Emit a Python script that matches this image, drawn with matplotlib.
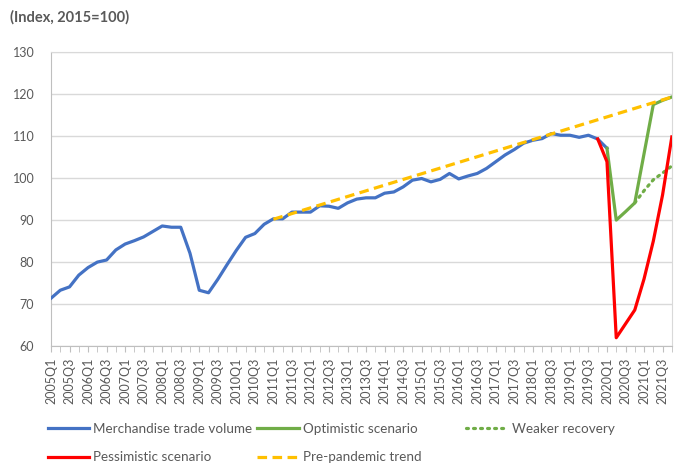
import numpy as np
import matplotlib
matplotlib.use("Agg")
import matplotlib.pyplot as plt
from matplotlib.lines import Line2D

plt.rcParams["font.family"] = ["Lato", "DejaVu Sans"]

# %% — Data
years = range(2005, 2022)
quarters = [f"{y}Q{q}" for y in years for q in range(1, 5)]   # 2005Q1 .. 2021Q4

# Merchandise trade volume, 2005Q1 .. 2020Q1
trade_start = "2005Q1"
trade_volume = [71.4, 73.3, 74.1, 76.9, 78.7, 80.0, 80.5, 82.9, 84.3, 85.1,
                86.0, 87.3, 88.6, 88.3, 88.3, 82.1, 73.3, 72.7, 75.9, 79.4,
                82.8, 85.9, 86.8, 89.0, 90.3, 90.3, 91.9, 91.9, 91.9, 93.4,
                93.3, 92.8, 94.1, 95.0, 95.3, 95.3, 96.4, 96.7, 97.9, 99.5,
                99.9, 99.1, 99.7, 101.1, 99.8, 100.5, 101.1, 102.3, 103.9, 105.5,
                106.8, 108.3, 109.0, 109.4, 110.6, 110.2, 110.2, 109.7, 110.2, 109.3,
                107.1]

optimistic_start = "2020Q1"
optimistic = [107.1, 90.0, 92.0, 94.1, 105.8, 117.5, 118.5, 119.3]

weaker_start = "2020Q4"
weaker = [94.1, 97.0, 99.6, 101.2, 102.9]

pessimistic_start = "2019Q4"
pessimistic = [109.3, 103.9, 62.0, 65.3, 68.6, 76.0, 85.0, 96.0, 109.8]

trend_quarters = ["2011Q1", "2021Q4"]
trend = [90.2, 119.3]

BLUE, GREEN, RED, YELLOW = "#4472C4", "#70AD47", "#FF0000", "#FFC000"
GREY_TXT = "#595959"
DOTS = (0, (0.6, 1.6))
DASHES = (0, (3, 1.7))


def xpos(start, n):
    i0 = quarters.index(start)
    return np.arange(i0, i0 + n)


# %% — Plot
fig = plt.figure(figsize=(6.8, 4.69), dpi=100)
ax = fig.add_axes([0.075, 0.262, 0.913, 0.627])

lw = 2.3
ax.plot(xpos(trade_start, len(trade_volume)), trade_volume, color=BLUE, lw=lw,
        solid_joinstyle="round", zorder=3)
ax.plot(xpos(optimistic_start, len(optimistic)), optimistic, color=GREEN, lw=lw, zorder=3)
ax.plot(xpos(weaker_start, len(weaker)), weaker, color=GREEN, lw=lw,
        linestyle=DOTS, dash_capstyle="round", zorder=3)
ax.plot(xpos(pessimistic_start, len(pessimistic)), pessimistic, color=RED, lw=lw, zorder=3)
ax.plot([quarters.index(q) for q in trend_quarters], trend, color=YELLOW, lw=lw,
        linestyle=DASHES, zorder=4)

ax.set_xlim(0, len(quarters) - 1)
ax.set_ylim(60, 130)
ax.set_yticks(range(60, 131, 10))
ax.grid(True, axis="y", color="#d9d9d9", lw=1)
ax.set_axisbelow(True)

ax.set_xticks(range(0, len(quarters), 2))
ax.set_xticklabels(quarters[::2], rotation=90, fontsize=9, color=GREY_TXT)
ax.set_xticks(range(len(quarters)), minor=True)
ax.tick_params(axis="x", which="both", length=4, color="#bfbfbf", pad=4)
ax.tick_params(axis="y", length=0, pad=12, labelsize=9, labelcolor=GREY_TXT)

for side in ["left", "bottom"]:
    ax.spines[side].set_color("#bfbfbf")
for side in ["top", "right"]:
    ax.spines[side].set_color("#d9d9d9")

fig.text(0.014, 0.962, "(Index, 2015=100)", fontsize=10.5, fontweight="bold",
         color=GREY_TXT, va="center", ha="left")

# legend: three equal-width columns like Excel
cols = [
    ([Line2D([], [], color=BLUE, lw=lw), Line2D([], [], color=RED, lw=lw)],
     ["Merchandise trade volume", "Pessimistic scenario"], 0.070),
    ([Line2D([], [], color=GREEN, lw=lw),
      Line2D([], [], color=YELLOW, lw=lw, linestyle=DASHES)],
     ["Optimistic scenario", "Pre-pandemic trend"], 0.378),
    ([Line2D([], [], color=GREEN, lw=lw, linestyle=DOTS, dash_capstyle="round")],
     ["Weaker recovery"], 0.686),
]
for handles, labels, x0 in cols:
    fig.legend(handles, labels, loc="upper left", bbox_to_anchor=(x0, 0.099),
               frameon=False, fontsize=9.7, labelcolor=GREY_TXT, handlelength=3.1,
               handletextpad=0.3, labelspacing=1.25, borderpad=0, borderaxespad=0)

fig.savefig("out.png", dpi=100)
